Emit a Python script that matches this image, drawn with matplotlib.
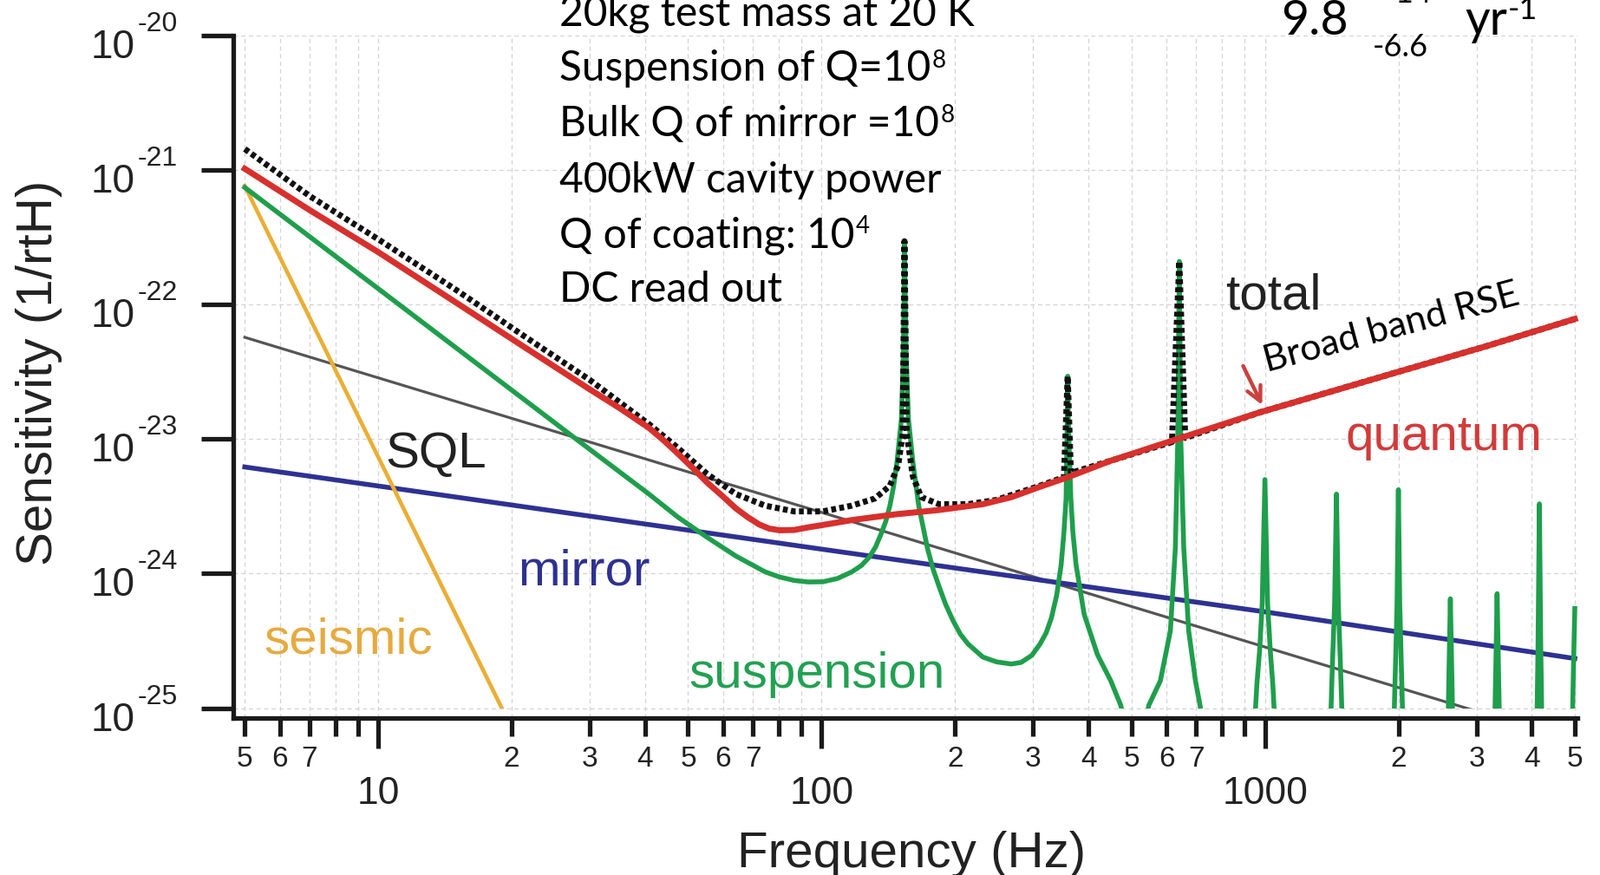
import matplotlib
matplotlib.use("Agg")
import matplotlib.pyplot as plt
from matplotlib.ticker import FixedLocator, FixedFormatter, NullFormatter, NullLocator
from matplotlib.patches import Rectangle
from matplotlib import font_manager as fm

# ---------------- data ----------------
seismic_f = [5, 20]
seismic_h = [7.6e-22, 7.1e-26]

sql_f = [5, 3000]
sql_h = [5.7e-23, 9.5e-26]

mirror_f = [5, 100, 1000, 5000]
mirror_h = [6.2e-24, 1.52e-24, 5.2e-25, 2.34e-25]

quantum_f = [5, 7, 10, 15, 21.2, 30, 35, 40.8, 44, 47.4, 51.2, 55.2, 59.6, 64.1,
             68.1, 72.3, 76.2, 80.4, 86.7, 93.5, 100, 117, 147, 184, 231, 268,
             311, 359, 449, 634, 975, 1194, 2000, 3160, 5000]
quantum_h = [1.02e-21, 5.03e-22, 2.45e-22, 1.03e-22, 4.9e-23, 2.34e-23, 1.7e-23,
             1.21e-23, 9.8e-24, 7.8e-24, 6.1e-24, 4.75e-24, 3.8e-24, 3.05e-24,
             2.63e-24, 2.32e-24, 2.16e-24, 2.10e-24, 2.11e-24, 2.21e-24,
             2.29e-24, 2.50e-24, 2.76e-24, 2.97e-24, 3.28e-24, 3.7e-24,
             4.42e-24, 5.2e-24, 6.9e-24, 1.0e-23, 1.58e-23, 1.92e-23, 3.16e-23,
             4.9e-23, 7.8e-23]

total_f = [5, 7, 10, 15, 21.2, 30, 40.8, 47.4, 55.2, 64.1, 74.6, 86.7, 100.7,
           117, 132, 142.6, 148.9, 152.4, 153.8, 155.6, 160.7, 167.9, 184,
           214, 248, 311, 352, 359, 365, 449, 617, 641, 661, 975, 1194, 2000,
           3160, 5000]
total_h = [1.43e-21, 6.4e-22, 3.05e-22, 1.28e-22, 5.9e-23, 2.75e-23, 1.29e-23,
           8.6e-24, 5.5e-24, 3.9e-24, 3.2e-24, 2.9e-24, 2.9e-24, 3.2e-24,
           3.62e-24, 4.5e-24, 6.4e-24, 1.1e-23, 2.95e-22, 1.1e-23, 5.25e-24,
           3.7e-24, 3.28e-24, 3.28e-24, 3.53e-24, 4.5e-24, 5.2e-24, 2.93e-23,
           5.6e-24, 6.9e-24, 9.5e-24, 2.09e-22, 1.02e-23, 1.58e-23, 1.92e-23,
           3.16e-23, 4.9e-23, 7.8e-23]

suspension_f = [5, 10, 20, 27.4, 40.8, 47.4, 55.2, 64.1, 74.6, 80.4, 86.7, 93.3,
                100.7, 108.6, 117, 123, 128, 132.4, 136, 139.6, 142.6, 145.2,
                147.9, 151.4, 152.8, 153.4, 153.8, 154.5, 155.2, 157, 160.7,
                165.6, 173.4, 178.6, 184, 190.5, 198, 205.6, 214, 231, 248,
                268, 282, 298, 311, 321, 330, 339, 347, 352, 356, 358, 359,
                360.5, 365, 369, 375, 391, 419, 449, 473, 490,
                530, 547, 581, 612, 628, 636, 641, 646, 656, 673, 697, 714, 730,
                944, 959, 973, 986, 1000, 1014, 1028, 1042, 1057,
                1403, 1419, 1436, 1450, 1464, 1481, 1498,
                1950, 1973, 1986, 2000, 2014, 2028, 2051,
                2585, 2602, 2620, 2638, 2656,
                3294, 3317, 3340, 3363, 3386,
                4103, 4131, 4160, 4189, 4218,
                4930, 4965, 5000]
suspension_h = [7.4e-22, 1.31e-22, 2.31e-23, 1.05e-23, 3.9e-24, 2.63e-24,
                1.86e-24, 1.35e-24, 1.03e-24, 9.44e-25, 8.9e-25, 8.67e-25,
                8.7e-25, 9.2e-25, 1.03e-24, 1.15e-24, 1.32e-24, 1.58e-24,
                1.95e-24, 2.45e-24, 3.2e-24, 4.37e-24,
                6.7e-24, 1.41e-23, 3.98e-23, 1.0e-22, 2.95e-22, 1.0e-22,
                3.98e-23, 1.41e-23, 6.7e-24,
                3.2e-24, 1.53e-24, 1.07e-24, 8.05e-25, 5.9e-25, 4.46e-25,
                3.55e-25, 3.0e-25, 2.4e-25, 2.21e-25,
                2.13e-25, 2.19e-25, 2.47e-25, 3.0e-25, 3.63e-25, 4.7e-25,
                6.9e-25, 1.16e-24, 2.0e-24, 3.6e-24, 1.26e-23, 2.93e-23,
                1.26e-23, 3.6e-24, 2.0e-24, 1.16e-24, 5.0e-25, 2.5e-25,
                1.6e-25, 1.05e-25, 6e-26,
                6e-26, 1.05e-25, 1.6e-25, 3.76e-25, 1.55e-24, 1.0e-23, 2.09e-22,
                1.0e-23, 1.55e-24, 3.76e-25, 1.6e-25, 1.05e-25, 6e-26,
                6e-26, 1.5e-25, 2.7e-25, 6.0e-25, 5.0e-24, 6.0e-25, 2.7e-25,
                1.5e-25, 6e-26,
                6e-26, 2.0e-25, 6.0e-25, 3.9e-24, 6.0e-25, 2.0e-25, 6e-26,
                6e-26, 2.5e-25, 6.0e-25, 4.2e-24, 6.0e-25, 2.5e-25, 6e-26,
                6e-26, 2.0e-25, 6.5e-25, 2.0e-25, 6e-26,
                6e-26, 2.0e-25, 7.1e-25, 2.0e-25, 6e-26,
                6e-26, 3.0e-25, 3.3e-24, 3.0e-25, 6e-26,
                6e-26, 2.0e-25, 5.5e-25]

x_major_ticks = [10, 100, 1000]
x_major_labels = ["10", "100", "1000"]
x_minor_ticks = [5, 6, 7, 8, 9, 20, 30, 40, 50, 60, 70, 80, 90,
                 200, 300, 400, 500, 600, 700, 800, 900, 2000, 3000, 4000, 5000]
x_minor_labels = ["5", "6", "7", "", "", "2", "3", "4", "5", "6", "7", "", "",
                  "2", "3", "4", "5", "6", "7", "", "", "2", "3", "4", "5"]
y_ticks = [1e-25, 1e-24, 1e-23, 1e-22, 1e-21, 1e-20]
y_exponents = ["-25", "-24", "-23", "-22", "-21", "-20"]

curve_labels = ["SQL", "mirror", "seismic", "suspension", "quantum", "total"]
curve_label_f = [10.37, 20.65, 5.52, 50.2, 1521, 813]
curve_label_h = [6.15e-24, 8.3e-25, 2.54e-25, 1.42e-25, 8.3e-24, 9.2e-23]

notes = ["20kg test mass at 20 K", "Suspension of Q=10", "Bulk Q of mirror =10",
         "400kW cavity power", "Q of coating: 10", "DC read out"]
note_sups = ["", "8", "8", "", "4", ""]

arrow_tip = (986, 1.79e-23)
arrow_tail = (893, 3.49e-23)

# ---------------- styling ----------------
W, H = 1845, 1009
fig = plt.figure(figsize=(W / 100, H / 100), dpi=100)
fig.patch.set_facecolor("white")

names = {f.name for f in fm.fontManager.ttflist}
SANS = "Liberation Sans"
NOTE = "Lato" if "Lato" in names else "DejaVu Sans"
plt.rcParams["font.family"] = [SANS, "DejaVu Sans"]

ax = fig.add_axes([269 / W, 1 - 828.3 / H, (1818.6 - 269) / W, (828.3 - 40.7) / H])
ax.set_xscale("log")
ax.set_yscale("log")
ax.set_xlim(4.71, 5060)
ax.set_ylim(10 ** -25.075, 1e-20)

RED = "#d7302d"
GREEN = "#1f9e4c"
ORANGE = "#eaae35"
NAVY = "#2e3192"
GRAY = "#555555"
BLACK = "#111111"

clip = Rectangle((1, 1e-25), 1e5, 1e-19, transform=ax.transData,
                 facecolor="none", edgecolor="none")

lines = []
lines += ax.plot(sql_f, sql_h, color=GRAY, lw=2.3, zorder=3)
lines += ax.plot(mirror_f, mirror_h, color=NAVY, lw=4.0, zorder=3)
lines += ax.plot(seismic_f, seismic_h, color=ORANGE, lw=3.3, zorder=3)
lines += ax.plot(suspension_f, suspension_h, color=GREEN, lw=4.0, zorder=4,
                 solid_joinstyle="round")
lines += ax.plot(total_f, total_h, color=BLACK, lw=5.0, ls=(0, (0.8, 0.55)),
                 dash_capstyle="butt", zorder=5)
lines += ax.plot(quantum_f, quantum_h, color=RED, lw=5.0, zorder=6,
                 solid_joinstyle="round")
for ln in lines:
    ln.set_clip_path(clip)

# grid
ax.set_axisbelow(True)
gkw = dict(color="#d4d4d4", lw=0.9, ls=(0, (4, 3)))
ax.grid(True, which="both", axis="x", **gkw)
ax.grid(True, which="major", axis="y", **gkw)

# spines
for s in ["top", "right"]:
    ax.spines[s].set_visible(False)
for s in ["left", "bottom"]:
    ax.spines[s].set_linewidth(3.8)
    ax.spines[s].set_color("#1a1a1a")

# x ticks
ax.xaxis.set_major_locator(FixedLocator(x_major_ticks))
ax.xaxis.set_major_formatter(FixedFormatter(x_major_labels))
ax.xaxis.set_minor_locator(FixedLocator(x_minor_ticks))
ax.xaxis.set_minor_formatter(FixedFormatter(x_minor_labels))
ax.tick_params(axis="x", which="major", length=25, width=3.8, pad=23,
               labelsize=32, color="#1a1a1a", labelcolor="#222222")
ax.tick_params(axis="x", which="minor", length=15, width=3.8, pad=8,
               labelsize=24, color="#1a1a1a", labelcolor="#222222")
# y ticks
ax.yaxis.set_major_locator(FixedLocator(y_ticks))
ax.yaxis.set_major_formatter(NullFormatter())
ax.yaxis.set_minor_locator(NullLocator())
ax.tick_params(axis="y", which="major", length=27, width=3.8, color="#1a1a1a")

for v, e in zip(y_ticks, y_exponents):
    ax.annotate("10", xy=(0, v), xycoords=("axes fraction", "data"),
                xytext=(-(269 - 156) * 0.72, -26 * 0.72), textcoords="offset points",
                ha="right", va="baseline", fontsize=33, color="#222222",
                annotation_clip=False)
    ax.annotate(e, xy=(0, v), xycoords=("axes fraction", "data"),
                xytext=(-(269 - 159) * 0.72, 5 * 0.72), textcoords="offset points",
                ha="left", va="baseline", fontsize=23, color="#222222",
                annotation_clip=False)

# axis labels
fig.text(1051 / W, 1 - 1000 / H, "Frequency (Hz)", ha="center", va="baseline",
         fontsize=42, color="#222222")
fig.text(60 / W, 1 - 430 / H, "Sensitivity (1/rtH)", rotation=90,
         rotation_mode="anchor", ha="center", va="baseline", fontsize=42,
         color="#222222")

# curve labels
label_colors = ["#222222", "#2d3290", "#e6aa3e", "#22a052", "#d13b3b", "#222222"]
for t, f, h, c in zip(curve_labels, curve_label_f, curve_label_h, label_colors):
    ax.text(f, h, t, color=c, fontsize=42, ha="left", va="baseline", zorder=7)

# notes block
baselines = [29.5, 93.3, 156.7, 221.7, 285, 348.3]
for txt, sup, b in zip(notes, note_sups, baselines):
    t = fig.text(645 / W, 1 - b / H, txt, fontsize=34.5, family=NOTE,
                 va="baseline", ha="left", color="black")
    if sup:
        ax.annotate(sup, xy=(1, 1), xycoords=t, xytext=(1.0, 0.5),
                    textcoords="offset points", ha="left", va="top",
                    fontsize=20, family=NOTE, color="black",
                    annotation_clip=False)

# rate (top right)
fig.text(1477 / W, 1 - 40 / H, "9.8", fontsize=40, family=NOTE, va="baseline")
fig.text(1588 / W, 1 - 3 / H, "+14", fontsize=26, family=NOTE, va="baseline")
fig.text(1583 / W, 1 - 65 / H, "-6.6", fontsize=26, family=NOTE, va="baseline")
fig.text(1689 / W, 1 - 40 / H, "yr", fontsize=40, family=NOTE, va="baseline")
fig.text(1739 / W, 1 - 21.7 / H, "-1", fontsize=26, family=NOTE, va="baseline")

# Broad band RSE
fig.text(1604 / W, 1 - 378 / H, "Broad band RSE", rotation=15,
         rotation_mode="anchor", ha="center", va="center", fontsize=31,
         family=NOTE, color="black")
ax.annotate("", xy=arrow_tip, xytext=arrow_tail,
            arrowprops=dict(arrowstyle="->", color="#c9413d", lw=3.2,
                            mutation_scale=30, shrinkA=0, shrinkB=0),
            zorder=8)

fig.savefig("out.png", dpi=100, facecolor="white")
